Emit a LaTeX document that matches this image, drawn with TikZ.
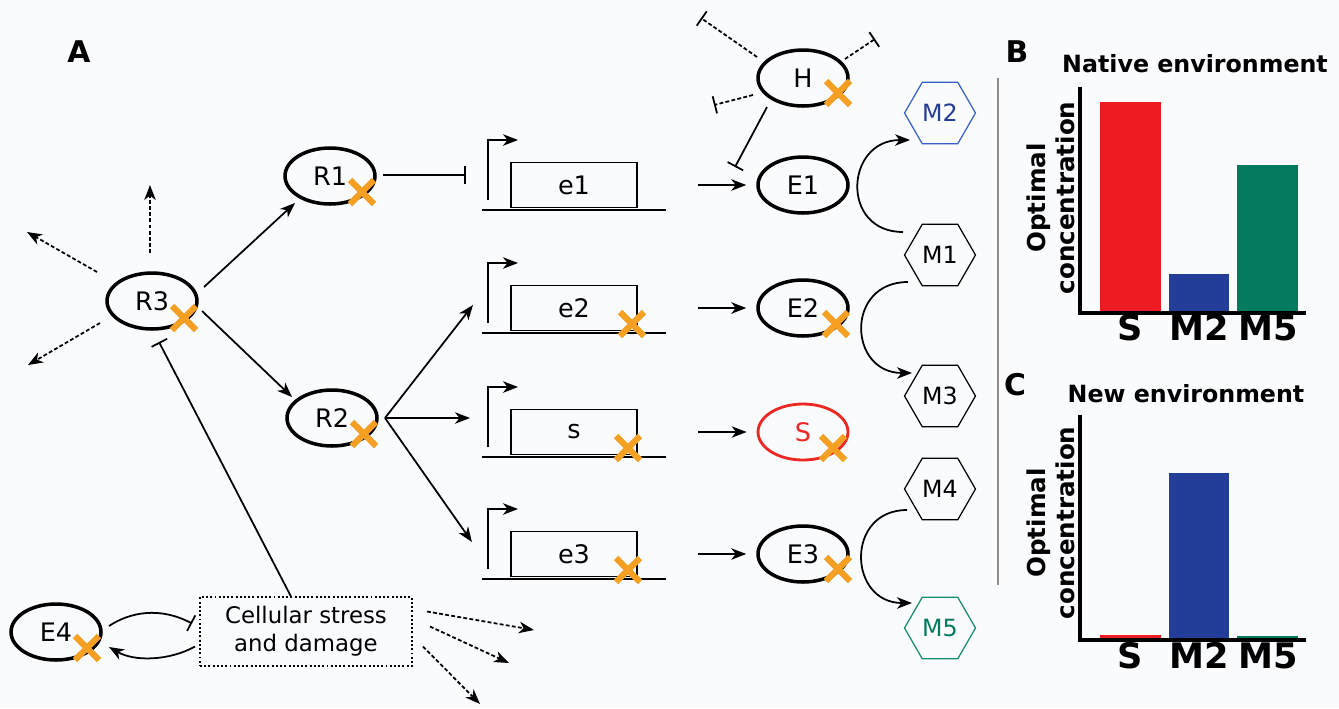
\documentclass[tikz,border=0pt]{standalone}
\usepackage{fontspec}
\setmainfont{DejaVu Sans}
\usetikzlibrary{shapes.geometric,arrows.meta}

\definecolor{ko}{RGB}{245,160,35}
\definecolor{barred}{RGB}{237,28,36}
\definecolor{barblue}{RGB}{35,62,153}
\definecolor{bargreen}{RGB}{4,123,95}
\definecolor{hexblue}{RGB}{55,95,205}
\definecolor{hexgreen}{RGB}{20,140,110}
\definecolor{sred}{RGB}{237,40,36}
\definecolor{sepgray}{RGB}{150,140,135}
\definecolor{bg}{RGB}{250,251,253}

\tikzset{
  tip/.tip={Stealth[length=8.5pt,width=6.5pt,inset=2.5pt]},
  prot/.style={ellipse, draw, line width=2pt, minimum width=1.8cm, minimum height=1.12cm,
    inner sep=0pt, font=\fontsize{14.5}{16}\selectfont},
  met/.style={regular polygon, regular polygon sides=6, draw, line width=0.7pt,
    minimum size=1.42cm, inner sep=0pt, font=\fontsize{13.5}{15}\selectfont},
  genebox/.style={rectangle, draw, line width=1pt, minimum width=2.52cm, minimum height=0.9cm,
    inner sep=0pt, font=\fontsize{14.5}{16}\selectfont},
  dna/.style={line width=1pt},
  arr/.style={line width=1pt, -tip},
  tee/.style={line width=1pt, -{Bar[width=10pt,line width=1pt]}},
  dsh/.style={dash pattern=on 2.2pt off 1.3pt},
  stressbox/.style={rectangle, draw, line width=1pt, dash pattern=on 1.1pt off 1.3pt,
    minimum width=4.24cm, minimum height=1.38cm, align=center,
    font=\fontsize{13}{16}\selectfont},
  panel/.style={font=\fontsize{17}{20}\selectfont\bfseries},
  ptitle/.style={font=\fontsize{13.5}{15}\selectfont\bfseries, anchor=base},
  barlab/.style={font=\fontsize{20}{24}\selectfont\bfseries, anchor=base},
  ylab/.style={font=\fontsize{14}{16.5}\selectfont\bfseries, rotate=90, align=center},
  axis/.style={line width=1.8pt},
  knockout/.pic={\draw[ko, line width=3.5pt] (-12,-12) -- (12,12) (-12,12) -- (12,-12);}
}

\begin{document}
\begin{tikzpicture}[x=0.02cm, y=-0.02cm]
\fill[bg] (0,0) rectangle (1339,708);
\useasboundingbox (0,0) rectangle (1339,708);

% ---------- panel A ----------
\node[panel, anchor=base] at (79,62) {A};

% regulators
\node[prot] (R3) at (152,301) {R3};
\node[prot] (R1) at (330,176) {R1};
\node[prot] (R2) at (332,418) {R2};
\node[prot] (E4) at (56,632) {E4};

% gene constructs: baseline, promoter arrow and coding box
\foreach \b/\n/\t in {210/g1/e1, 333/g2/e2, 457/g3/s, 579/g4/e3}{
  \draw[dna] (482,\b) -- (666,\b);
  \draw[dna, -tip] (488,\b-10) -- (488,\b-70) -- (518,\b-70);
  \node[genebox] (\n) at (574,\b-25) {\t};
}

% enzymes and products
\node[prot] (H)  at (803,78)  {H};
\node[prot] (E1) at (803,185) {E1};
\node[prot] (E2) at (803,308) {E2};
\node[prot, draw=sred, line width=1.6pt, text=sred] (S) at (803,432) {S};
\node[prot] (E3) at (803,554) {E3};

% metabolites
\node[met, draw=hexblue, text=barblue] (M2) at (940,113) {M2};
\node[met] (M1) at (940,255) {M1};
\node[met] (M3) at (940,396) {M3};
\node[met] (M4) at (940,489) {M4};
\node[met, draw=hexgreen, text=bargreen] (M5) at (940,628) {M5};

% stress
\node[stressbox] (ST) at (306,631.5) {Cellular stress\\and damage};

% knockout marks
\foreach \nd/\dx/\dy in {R3/32/17, R1/32/16, R2/32/16, E4/31/16, H/35/15, E2/33/16, S/30/16, E3/35/15}{
  \path ([shift={(\dx,\dy)}]\nd.center) pic {knockout};
}
\foreach \nd/\dx in {g2/58, g3/54, g4/54}{
  \path ([shift={(\dx,16)}]\nd.center) pic {knockout};
}

% R3 outputs
\coordinate (u1) at (150,185);
\coordinate (u2) at (27,232);
\coordinate (u3) at (28,365);
\draw[arr, dsh] ([shift={(-2,-48)}]R3.center) -- (u1);
\draw[arr, dsh] ([shift={(-55,-29)}]R3.center) -- (u2);
\draw[arr, dsh] ([shift={(-52,22)}]R3.center) -- (u3);
\draw[arr] ([shift={(52,-14)}]R3.center) -- ([shift={(-35,27)}]R1.center);
\draw[arr] ([shift={(50,10)}]R3.center) -- ([shift={(-40,-21)}]R2.center);

% R1 represses e1
\coordinate (rep1) at (466,175);
\draw[tee] ([shift={(53,-1)}]R1.center) -- (rep1);

% R2 activates e2, s, e3
\coordinate (fan) at (385,418);
\coordinate (pe2) at (473,305);
\coordinate (ps) at (470,418);
\coordinate (pe3) at (472,542);
\draw[arr] (fan) -- (pe2);
\draw[arr] (fan) -- (ps);
\draw[arr] (fan) -- (pe3);

% expression
\foreach \g/\p in {g1/E1, g2/E2, g3/S, g4/E3}{
  \draw[arr, shorten <=1.2cm, shorten >=0.2cm] (\g.east) -- (\p.west);
}

% H inhibitions
\coordinate (h1) at (701,18);
\coordinate (h2) at (875,39);
\coordinate (h3) at (714,105);
\draw[tee, dsh] ([shift={(-46,-21)}]H.center) -- (h1);
\draw[tee, dsh] ([shift={(42,-19)}]H.center) -- (h2);
\draw[tee, dsh] ([shift={(-50,17)}]H.center) -- (h3);
\draw[tee] ([shift={(-36,29)}]H.center) -- ([shift={(-68,-18)}]E1.center);

% reactions
\draw[arr] ([shift={(-37,-23)}]M1.center) .. controls +(-63,0) and +(-65,0) .. ([shift={(-30,27)}]M2.center);
\draw[arr] ([shift={(-32,27)}]M1.center) .. controls +(-63,0) and +(-64,0) .. ([shift={(-28,-23)}]M3.center);
\draw[arr] ([shift={(-33,21)}]M4.center) .. controls +(-62,0) and +(-64,0) .. ([shift={(-28,-25)}]M5.center);

% stress loop
\draw[tee] ([shift={(-15,-35)}]ST.center) -- ([shift={(7,41)}]R3.center);
\draw[tee] ([shift={(53,-6)}]E4.center) .. controls +(21,-14) and +(-32,-17) .. ([shift={(-114,-8)}]ST.center);
\draw[arr] ([shift={(-111,15)}]ST.center) .. controls +(-25,14) and +(26,15) .. ([shift={(53,15)}]E4.center);
\coordinate (s1) at (534,630);
\coordinate (s2) at (509,663);
\coordinate (s3) at (480,704);
\draw[arr, dsh] ([shift={(121,-20)}]ST.center) -- (s1);
\draw[arr, dsh] ([shift={(124,-5)}]ST.center) -- (s2);
\draw[arr, dsh] ([shift={(117,15)}]ST.center) -- (s3);

% separator
\draw[sepgray, line width=0.7pt] (998,78) -- (998,585);

% ---------- panel B ----------
\node[panel, anchor=base] at (1017,62) {B};
\node[ptitle] at (1195,72) {Native environment};
\fill[barred]   (1100,102) rectangle (1161,313);
\fill[barblue]  (1169,274) rectangle (1229,313);
\fill[bargreen] (1237,165) rectangle (1298,313);
\draw[axis] (1080,87) -- (1080,313) -- (1306,313);
\node[barlab] at (1130,340) {S};
\node[barlab] at (1199,340) {M2};
\node[barlab] at (1268,340) {M5};
\node[ylab] at (1051,198) {Optimal\\concentration};

% ---------- panel C ----------
\node[panel, anchor=base] at (1015,395) {C};
\node[ptitle] at (1186,402) {New environment};
\fill[barred]   (1100,635) rectangle (1161,640);
\fill[barblue]  (1169,473) rectangle (1229,640);
\fill[bargreen] (1237,636) rectangle (1298,640);
\draw[axis] (1080,415) -- (1080,640) -- (1306,640);
\node[barlab] at (1130,668) {S};
\node[barlab] at (1199,668) {M2};
\node[barlab] at (1268,668) {M5};
\node[ylab] at (1051,523) {Optimal\\concentration};
\end{tikzpicture}
\end{document}
